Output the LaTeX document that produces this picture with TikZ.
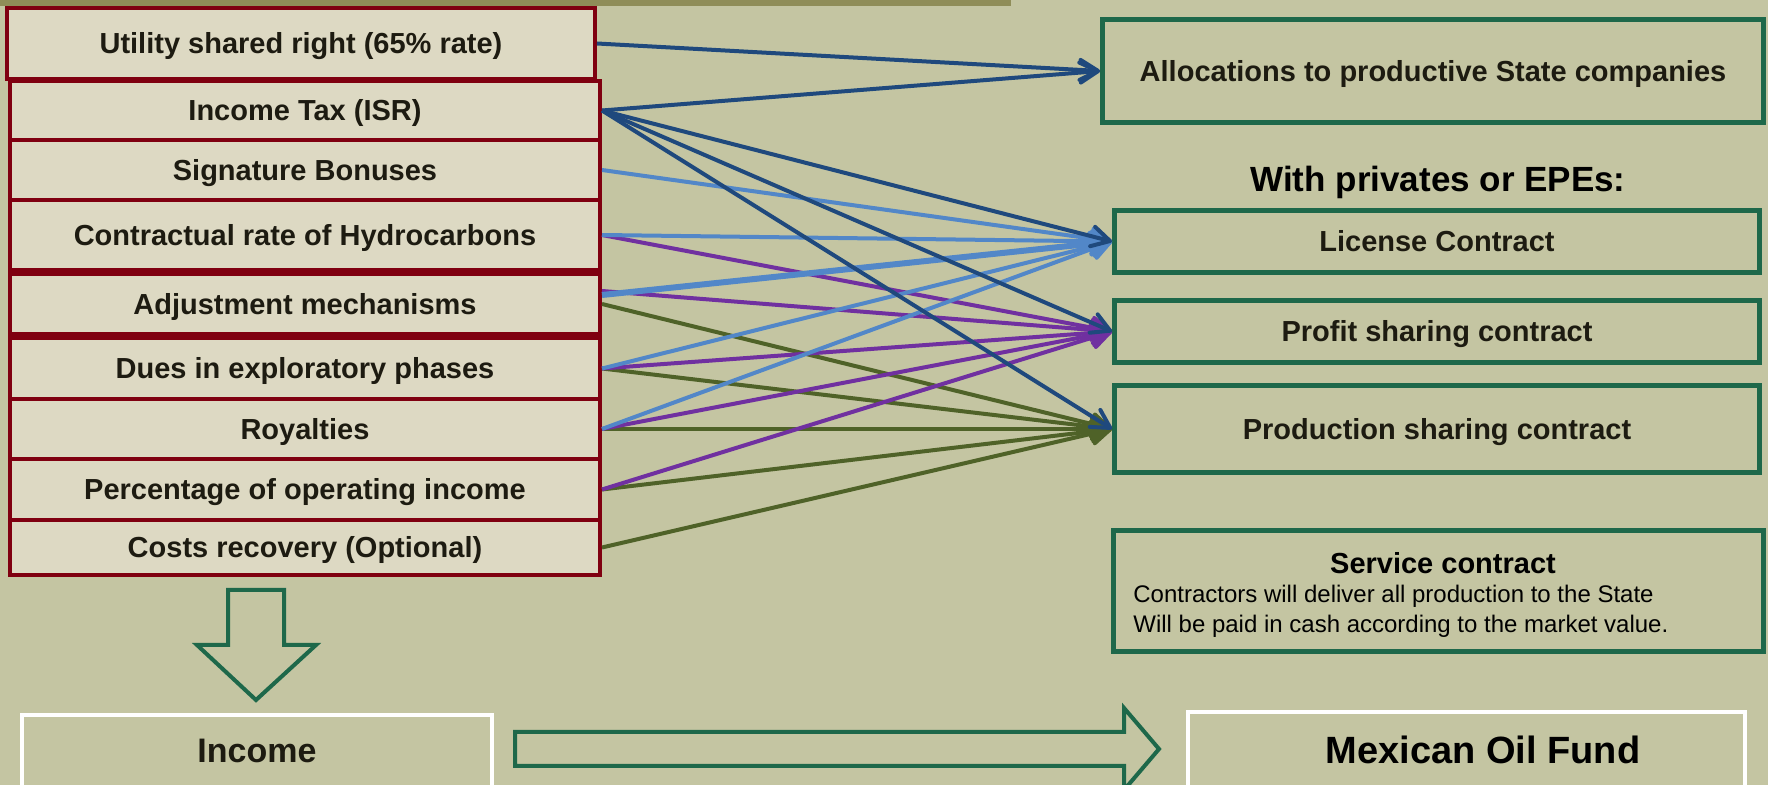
\documentclass[tikz,border=0pt]{standalone}
\usepackage{fontspec}
\setmainfont{Liberation Sans}
\usetikzlibrary{arrows.meta}
\definecolor{bg}{RGB}{196,197,162}
\definecolor{topbar}{RGB}{143,141,88}
\definecolor{boxfill}{RGB}{221,217,195}
\definecolor{boxred}{RGB}{127,0,16}
\definecolor{boxgreen}{RGB}{30,104,74}
\definecolor{txt}{RGB}{29,27,17}
\definecolor{dblue}{RGB}{31,73,125}
\definecolor{lblue}{RGB}{82,135,200}
\definecolor{purp}{RGB}{112,48,160}
\definecolor{olivegr}{RGB}{79,98,40}
\begin{document}
\begin{tikzpicture}[x=0.5pt,y=-0.5pt,
  src/.style={draw=boxred, line width=2pt, fill=boxfill, inner sep=0pt,
    minimum width=295pt, font=\bfseries\fontsize{14.5}{17}\selectfont,
    text=txt, text height=10.4pt, text depth=0pt},
  dst/.style={draw=boxgreen, line width=2.5pt, inner sep=0pt,
    font=\bfseries\fontsize{14.5}{17}\selectfont, text=txt,
    text height=10.4pt, text depth=0pt},
  btm/.style={draw=white, line width=2pt, inner sep=0pt, text=txt},
  link/.style={line width=2pt, -{Straight Barb[length=9pt,width=10pt,round]}},
  blockarrow/.style={draw=boxgreen, line width=2pt, line join=miter}]
\useasboundingbox (0,0) rectangle (1768,785);
\clip (0,0) rectangle (1768,785);
\fill[bg] (0,0) rectangle (1768,785);
\fill[topbar] (0,0) rectangle (1011,6);

% source boxes
\node[src, minimum width=294pt, minimum height=35.5pt] (ut) at (301,43.5) {Utility shared right (65\% rate)};
\node[src, minimum height=29.5pt] (inc) at (305,110.5) {Income Tax (ISR)};
\node[src, minimum height=30pt] (sig) at (305,170) {Signature Bonuses};
\node[src, minimum height=35pt] (con) at (305,235) {Contractual rate of Hydrocarbons};
\node[src, minimum height=30pt] (adj) at (305,304) {Adjustment mechanisms};
\node[src, minimum height=30.5pt] (dues) at (305,368.5) {Dues in exploratory phases};
\node[src, minimum height=30pt] (roy) at (305,429) {Royalties};
\node[src, minimum height=30.5pt] (perc) at (305,489.5) {Percentage of operating income};
\node[src, minimum height=27.5pt] (cost) at (305,547.5) {Costs recovery (Optional)};

% destination boxes
\node[dst, minimum width=330.5pt, minimum height=51.5pt] (alloc) at (1433,71) {Allocations to productive State companies};
\node[font=\bfseries\fontsize{17.5}{20}\selectfont, text=black, inner sep=0pt] (withp) at (1438,182) {With privates or EPEs:};
\node[dst, minimum width=322.5pt, minimum height=31pt] (lic) at (1437,241.5) {License Contract};
\node[dst, minimum width=322.5pt, minimum height=31pt] (prof) at (1437,331.5) {Profit sharing contract};
\node[dst, minimum width=322.5pt, minimum height=43.5pt] (prod) at (1437,429) {Production sharing contract};
\node[dst, minimum width=325pt, minimum height=60.5pt] (svc) at (1438.5,591) {};
\node[font=\bfseries\fontsize{14.5}{17}\selectfont, text=black, inner sep=0pt] (svct) at (1443,563) {Service contract};
\node[anchor=west, align=left, font=\fontsize{12}{15}\selectfont, text=black, inner sep=0pt] (svcd) at (1133,611)
  {Contractors will deliver all production to the State\\Will be paid in cash according to the market value.};

% bottom boxes
\node[btm, minimum width=235pt, minimum height=36pt, font=\bfseries\fontsize{17}{20}\selectfont] (income) at (257,751) {Income};
\node[btm, minimum width=278.5pt, minimum height=39pt] (fundbox) at (1466.5,751) {};
\node[font=\bfseries\fontsize{19}{22}\selectfont, text=black, inner sep=0pt] (fund) at (1483,750) {Mexican Oil Fund};

% block arrows
\draw[blockarrow] (228,590) -- (284,590) -- (284,645) -- (316,645) -- (256,700) -- (197,645) -- (228,645) -- cycle;
\draw[blockarrow] (515,732) -- (1124,732) -- (1124,708) -- (1159,749) -- (1124,790) -- (1124,766) -- (515,766) -- cycle;

% green links
\draw[link, olivegr] (adj.east) -- (prod.west);
\draw[link, olivegr] (dues.east) -- (prod.west);
\draw[link, olivegr] (roy.east) -- (prod.west);
\draw[link, olivegr] (perc.east) -- (prod.west);
\draw[link, olivegr] (cost.east) -- (prod.west);
% purple links
\draw[link, purp] (con.east) -- (prof.west);
\draw[link, purp] ([yshift=6.5pt]adj.east) -- (prof.west);
\draw[link, purp] (dues.east) -- (prof.west);
\draw[link, purp] (roy.east) -- (prof.west);
\draw[link, purp] (perc.east) -- (prof.west);
% light blue links
\draw[link, lblue] (sig.east) -- (lic.west);
\draw[link, lblue] (con.east) -- (lic.west);
\draw[link, lblue, line width=3pt] ([yshift=4.5pt]adj.east) -- (lic.west);
\draw[link, lblue] (dues.east) -- (lic.west);
\draw[link, lblue] (roy.east) -- (lic.west);
% dark blue links
\draw[link, dblue] (ut.east) -- (alloc.west);
\draw[link, dblue] (inc.east) -- (alloc.west);
\draw[link, dblue] (inc.east) -- (lic.west);
\draw[link, dblue] (inc.east) -- (prof.west);
\draw[link, dblue] (inc.east) -- (prod.west);
\end{tikzpicture}
\end{document}
